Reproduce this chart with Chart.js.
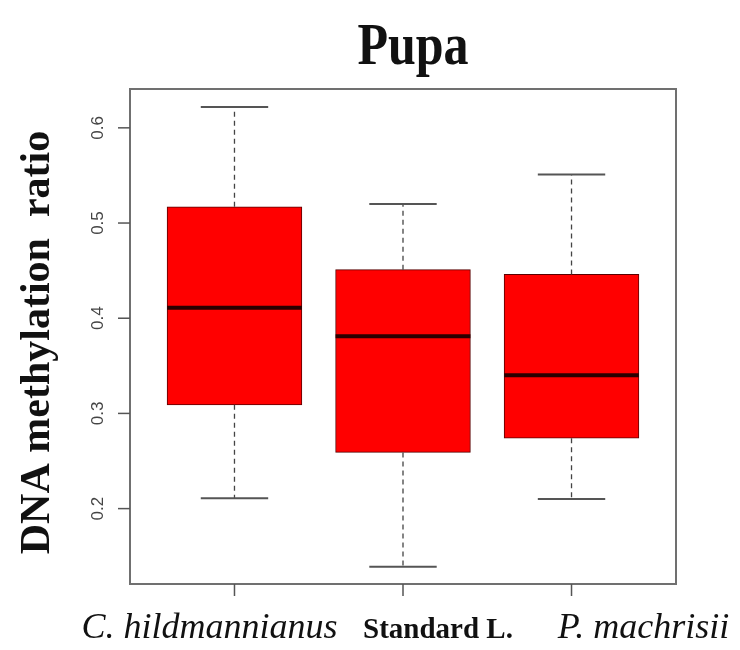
<!DOCTYPE html>
<html>
<head>
<meta charset="utf-8">
<script src="https://cdn.jsdelivr.net/npm/chart.js@4/dist/chart.umd.min.js"></script>
<style>
  html, body { margin: 0; padding: 0; background: #fff; }
  #wrap { width: 740px; height: 650px; }
</style>
</head>
<body>
<div id="wrap"><canvas id="boxChart" width="740" height="650"></canvas></div>
<script>
// box plot data
const categories = ['C. hildmannianus', 'Standard L.', 'P. machrisii'];
const whiskerLow = [0.211, 0.139, 0.210];
const q1 = [0.309, 0.259, 0.274];
const median = [0.411, 0.381, 0.340];
const q3 = [0.517, 0.451, 0.446];
const whiskerHigh = [0.622, 0.520, 0.551];
const yTicks = [0.2, 0.3, 0.4, 0.5, 0.6];

// label styling (the original labels sit a bit off their ticks)
const labelFonts = ['italic 36px "Liberation Serif"', 'bold 29px "Liberation Serif"', 'italic 36px "Liberation Serif"'];
const labelShift = [-25, 35, 72];

const boxData = categories.map((c, i) => ({ x: i + 1, y: [q1[i], q3[i]] }));

function unitWidth(chart) {
    const s = chart.scales.x;
    return s.getPixelForValue(2) - s.getPixelForValue(1);
}

const boxPlotPlugin = {
    id: 'boxPlot',
    afterDatasetsDraw(chart) {
        const ctx = chart.ctx;
        const xs = chart.scales.x;
        const ys = chart.scales.y;
        const meta = chart.getDatasetMeta(0);
        ctx.save();
        meta.data.forEach((bar, i) => {
            const cx = xs.getPixelForValue(i + 1);
            const half = bar.width / 2;
            const capHalf = half / 2;
            // whiskers (dashed)
            ctx.strokeStyle = '#444';
            ctx.lineWidth = 1.3;
            ctx.setLineDash([5, 4]);
            ctx.beginPath();
            ctx.moveTo(cx, ys.getPixelForValue(q3[i]));
            ctx.lineTo(cx, ys.getPixelForValue(whiskerHigh[i]));
            ctx.moveTo(cx, ys.getPixelForValue(q1[i]));
            ctx.lineTo(cx, ys.getPixelForValue(whiskerLow[i]));
            ctx.stroke();
            // caps
            ctx.setLineDash([]);
            ctx.lineWidth = 2;
            ctx.strokeStyle = '#555';
            ctx.beginPath();
            [whiskerHigh[i], whiskerLow[i]].forEach(v => {
                const py = ys.getPixelForValue(v);
                ctx.moveTo(cx - capHalf, py);
                ctx.lineTo(cx + capHalf, py);
            });
            ctx.stroke();
            // median
            const my = ys.getPixelForValue(median[i]);
            ctx.strokeStyle = '#2a0000';
            ctx.lineWidth = 4;
            ctx.beginPath();
            ctx.moveTo(cx - half, my);
            ctx.lineTo(cx + half, my);
            ctx.stroke();
        });
        ctx.restore();
    },
    afterDraw(chart) {
        const ctx = chart.ctx;
        const area = chart.chartArea;
        const xs = chart.scales.x;
        const ys = chart.scales.y;
        ctx.save();

        // frame
        ctx.strokeStyle = '#707070';
        ctx.lineWidth = 2;
        ctx.strokeRect(area.left, area.top, area.right - area.left, area.bottom - area.top);

        // y ticks + rotated labels
        ctx.lineWidth = 1.5;
        ctx.strokeStyle = '#555';
        ctx.fillStyle = '#444';
        ctx.font = '17px "Liberation Sans"';
        ctx.textAlign = 'center';
        ctx.textBaseline = 'alphabetic';
        yTicks.forEach(v => {
            const py = ys.getPixelForValue(v);
            ctx.beginPath();
            ctx.moveTo(area.left - 12, py);
            ctx.lineTo(area.left, py);
            ctx.stroke();
            ctx.save();
            ctx.translate(area.left - 27, py);
            ctx.rotate(-Math.PI / 2);
            ctx.fillText(v.toFixed(1), 0, 0);
            ctx.restore();
        });

        // x ticks
        categories.forEach((c, i) => {
            const px = xs.getPixelForValue(i + 1);
            ctx.beginPath();
            ctx.moveTo(px, area.bottom);
            ctx.lineTo(px, area.bottom + 12);
            ctx.stroke();
        });

        // x labels
        ctx.fillStyle = '#111';
        categories.forEach((c, i) => {
            const px = xs.getPixelForValue(i + 1) + labelShift[i];
            ctx.font = labelFonts[i];
            ctx.fillText(c, px, 638);
        });

        // y axis title
        ctx.save();
        ctx.translate(49, (area.top + area.bottom) / 2 + 6);
        ctx.rotate(-Math.PI / 2);
        ctx.font = 'bold 42px "Liberation Serif"';
        ctx.fillText('DNA methylation  ratio', 0, 0);
        ctx.restore();

        // title
        ctx.save();
        ctx.translate(413, 64);
        ctx.scale(1, 1.2);
        ctx.font = 'bold 50px "Liberation Serif"';
        ctx.fillText('Pupa', 0, 0);
        ctx.restore();

        ctx.restore();
    }
};

const chart = new Chart(document.getElementById('boxChart').getContext('2d'), {
    type: 'bar',
    data: {
        datasets: [{
            label: 'IQR',
            data: boxData,
            backgroundColor: '#ff0000',
            borderColor: '#5a0000',
            borderWidth: 1,
            borderSkipped: false,
            barThickness: (c) => 0.8 * unitWidth(c.chart)
        }]
    },
    options: {
        responsive: false,
        animation: false,
        layout: {
            padding: { left: 130, right: 64, top: 89, bottom: 66 }
        },
        plugins: {
            legend: { display: false },
            tooltip: { enabled: false }
        },
        scales: {
            x: {
                type: 'linear',
                offset: false,
                min: 0.38,
                max: 3.62,
                display: false
            },
            y: {
                min: 0.1208,
                max: 0.6408,
                display: false
            }
        }
    },
    plugins: [boxPlotPlugin]
});
</script>
</body>
</html>
